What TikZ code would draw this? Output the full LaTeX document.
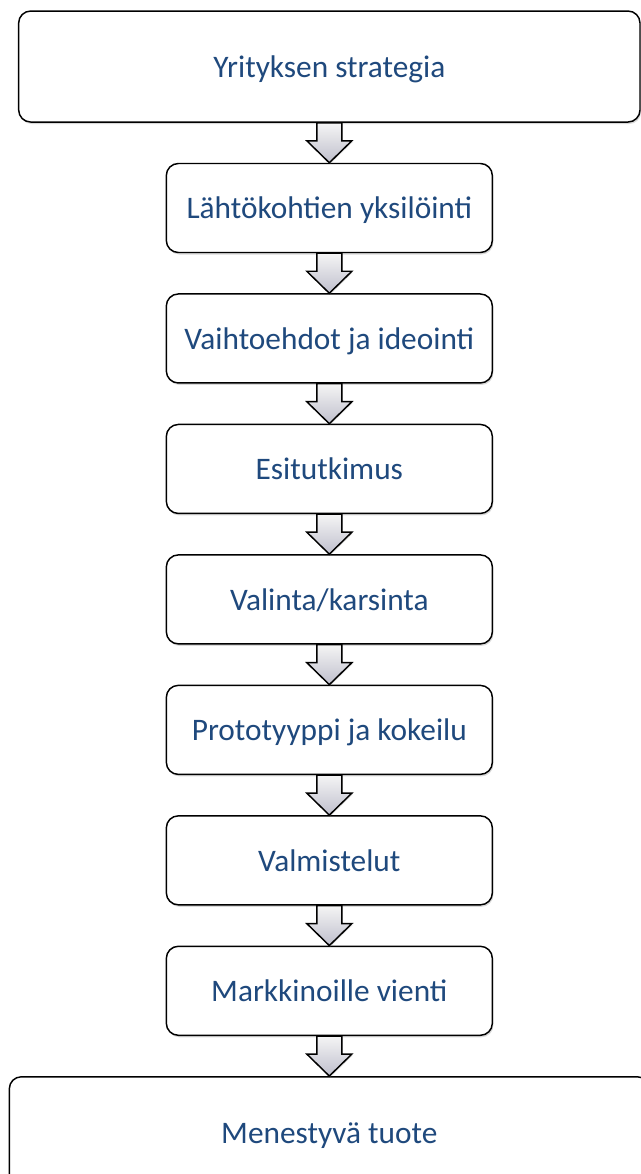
\documentclass[tikz,border=0pt]{standalone}
\usepackage{fontspec}
\setmainfont{Carlito}
\usetikzlibrary{positioning,calc,shadows}
\definecolor{stagetext}{RGB}{31,73,125}

\begin{document}
\begin{tikzpicture}
    \tikzset{stage/.style={
        draw, line width=1.1pt, rounded corners=9pt, fill=white,
        drop shadow={shadow xshift=0.8pt, shadow yshift=-1.5pt, opacity=0.3},
        text=stagetext, font=\fontsize{23.5}{28}\selectfont, text depth=0pt,
        minimum width=244.5pt, minimum height=66.75pt, inner sep=0pt
      },
      widestage/.style={stage, minimum width=466pt, minimum height=83.25pt},
      blockarrow/.style={draw, line width=1.1pt, line join=miter,
        top color=gray!8, bottom color=blue!12!gray!45,
        drop shadow={shadow xshift=0.6pt, shadow yshift=-1pt, opacity=0.25}
      }
    }

    \useasboundingbox (0,0) rectangle (480pt,-880.5pt);

    \node[widestage] (A) at (247pt,-49.9pt) {Yrityksen strategia};
    \node[stage] (B) [below=30pt of A] {Lähtökohtien yksilöinti};
    \node[stage] (C) [below=30pt of B] {Vaihtoehdot ja ideointi};
    \node[stage] (D) [below=30pt of C] {Esitutkimus};
    \node[stage] (E) [below=30pt of D] {Valinta/karsinta};
    \node[stage] (F) [below=30pt of E] {Prototyyppi ja kokeilu};
    \node[stage] (G) [below=30pt of F] {Valmistelut};
    \node[stage] (H) [below=30pt of G] {Markkinoille vienti};
    \node[widestage, minimum width=480pt, minimum height=84pt] (I) [below=30pt of H] {Menestyvä tuote};

    % block arrows between the stages
    \foreach \a/\b in {A/B,B/C,C/D,D/E,E/F,F/G,G/H,H/I}
      \draw[blockarrow] ([xshift=-9.4pt]\a.south) -- ([xshift=-9.4pt,yshift=16.5pt]\b.north)
        -- ([xshift=-16.9pt,yshift=16.5pt]\b.north) -- (\b.north)
        -- ([xshift=16.9pt,yshift=16.5pt]\b.north) -- ([xshift=9.4pt,yshift=16.5pt]\b.north)
        -- ([xshift=9.4pt]\a.south) -- cycle;
\end{tikzpicture}
\end{document}
